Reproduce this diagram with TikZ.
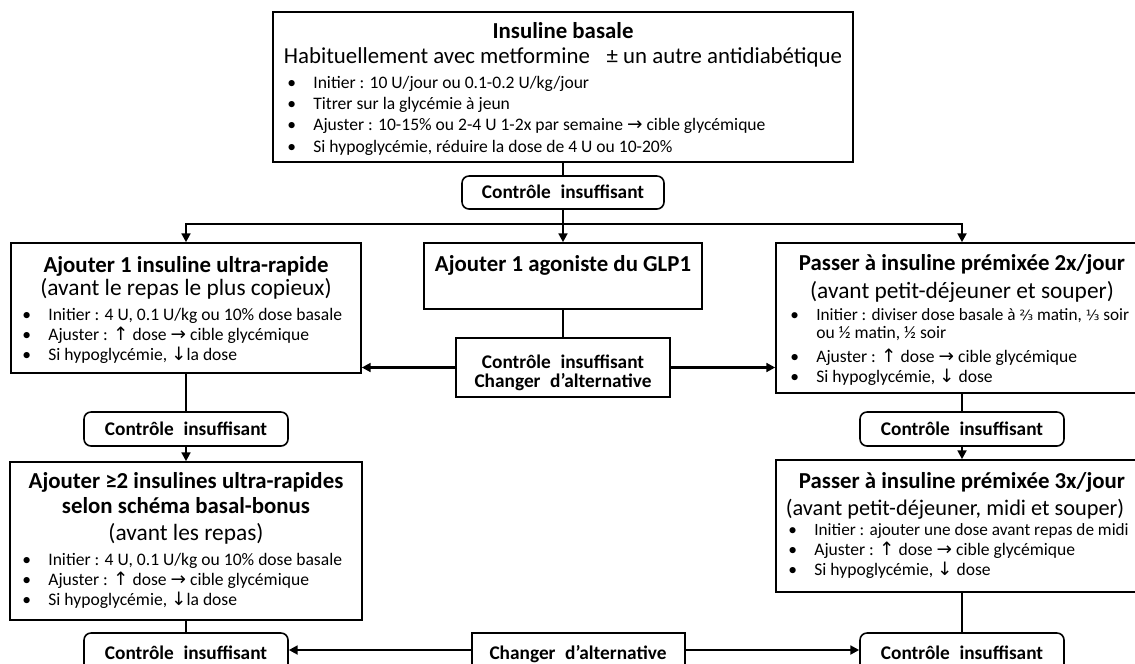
\documentclass[tikz,border=0pt]{standalone}
\usepackage{fontspec}
\setmainfont{Carlito}
\newfontfamily\symb{DejaVu Sans}
\usetikzlibrary{arrows.meta,fit}

\newcommand{\haut}{{\symb\fontsize{10.5}{12}\selectfont ↑}}
\newcommand{\bas}{{\symb\fontsize{10.5}{12}\selectfont ↓}}
\newcommand{\vers}{{\symb\fontsize{10.5}{12}\selectfont →}}

\tikzset{
  boite/.style={draw, line width=0.9pt, inner sep=0pt},
  ctl/.style={boite, rounded corners=4pt},
  lien/.style={line width=1.3pt},
  fleche/.style={lien, -{Triangle[length=5pt,width=5pt]}},
  titre/.style={anchor=base, inner sep=0pt, font=\fontsize{13}{15}\selectfont\bfseries},
  sous/.style={anchor=base, inner sep=0pt, font=\fontsize{13.3}{15}\selectfont},
  gras/.style={anchor=base, inner sep=0pt, font=\fontsize{11}{13}\selectfont\bfseries},
  puce/.style={anchor=base west, inner sep=0pt, font=\fontsize{10}{12}\selectfont},
}
\newcommand{\bul}{\makebox[0.52cm][l]{\textbullet}}

\begin{document}
\begin{tikzpicture}[x=0.02cm, y=-0.02cm]
  \useasboundingbox (0,0) rectangle (1135,663);
  \clip (0,0) rectangle (1135,663);

  % boites
  \node[boite, fit={(273,12) (853,162)}] (b0) {};
  \node[ctl, fit={(462,176) (664,209)}] (c0) {};
  \node[boite, fit={(11,243) (361,373)}] (b1) {};
  \node[boite, fit={(424,243) (702,309)}] (b2) {};
  \node[boite, fit={(776,243) (1148,393)}] (b3) {};
  \node[boite, fit={(456,338) (670,397)}] (c2) {};
  \node[ctl, fit={(84,412) (288,446)}] (c1) {};
  \node[ctl, fit={(860,412) (1064,446)}] (c3) {};
  \node[boite, fit={(10,462) (362,620)}] (b4) {};
  \node[boite, fit={(776,460) (1148,592)}] (b5) {};
  \node[ctl, fit={(84,633) (288,671)}] (c4) {};
  \node[ctl, fit={(860,633) (1064,671)}] (c5) {};
  \node[boite, fit={(472,633) (685,671)}] (alt) {};

  % insuline basale
  \node[titre] (t0) at (563,38) {Insuline basale};
  \node[sous, font=\fontsize{13}{15}\selectfont] (s0) at (563,63)
    {Habituellement avec metformine \enspace± un autre antidiabétique};
  \node[puce] (p01) at (287,88) {\bul Initier : 10 U/jour ou 0.1-0.2 U/kg/jour};
  \node[puce] (p02) at (287,109) {\bul Titrer sur la glycémie à jeun};
  \node[puce] (p03) at (287,130) {\bul Ajuster : 10-15\% ou 2-4 U 1-2x par semaine \vers{} cible glycémique};
  \node[puce] (p04) at (287,152) {\bul Si hypoglycémie, réduire la dose de 4 U ou 10-20\%};
  \node[gras] (k0) at (563,198) {Contrôle\enspace insuffisant};

  % ultra-rapide
  \node[titre] (t1) at (186,272) {Ajouter 1 insuline ultra-rapide};
  \node[sous] (s1) at (186,295) {(avant le repas le plus copieux)};
  \node[puce] (p11) at (22,320) {\bul Initier : 4 U, 0.1 U/kg ou 10\% dose basale};
  \node[puce] (p12) at (22,340) {\bul Ajuster : \haut{} dose \vers{} cible glycémique};
  \node[puce] (p13) at (22,360) {\bul Si hypoglycémie, \bas la dose};

  % GLP1
  \node[titre] (t2) at (563,271) {Ajouter 1 agoniste du GLP1};
  \node[gras] (k21) at (563,368) {Contrôle\enspace insuffisant};
  \node[gras] (k22) at (563,387) {Changer\enspace d’alternative};

  % premixee 2x
  \node[titre] (t3) at (962,270) {Passer à insuline prémixée 2x/jour};
  \node[sous] (s3) at (962,298) {(avant petit-déjeuner et souper)};
  \node[puce, font=\fontsize{9.8}{12}\selectfont] (p31) at (790,320) {\bul Initier : diviser dose basale à {\symb\fontsize{8}{10}\selectfont ⅔} matin, {\symb\fontsize{8}{10}\selectfont ⅓} soir};
  \node[puce] (p32) at (816,338) {ou ½ matin, ½ soir};
  \node[puce] (p33) at (790,362) {\bul Ajuster : \haut{} dose \vers{} cible glycémique};
  \node[puce] (p34) at (790,382) {\bul Si hypoglycémie, \bas{} dose};

  \node[gras] (k1) at (186,435) {Contrôle\enspace insuffisant};
  \node[gras] (k3) at (962,435) {Contrôle\enspace insuffisant};

  % basal-bonus
  \node[titre] (t4) at (186,488) {Ajouter ≥2 insulines ultra-rapides};
  \node[titre] (t4b) at (186,513) {selon schéma basal-bonus};
  \node[sous] (s4) at (186,540) {(avant les repas)};
  \node[puce] (p41) at (22,565) {\bul Initier : 4 U, 0.1 U/kg ou 10\% dose basale};
  \node[puce] (p42) at (22,585) {\bul Ajuster : \haut{} dose \vers{} cible glycémique};
  \node[puce] (p43) at (22,605) {\bul Si hypoglycémie, \bas la dose};

  % premixee 3x
  \node[titre] (t5) at (962,488) {Passer à insuline prémixée 3x/jour};
  \node[sous, font=\fontsize{12.7}{15}\selectfont] (s5) at (955,515) {(avant petit-déjeuner, midi et souper)};
  \node[puce, font=\fontsize{9.8}{12}\selectfont] (p51) at (788,535) {\bul Initier : ajouter une dose avant repas de midi};
  \node[puce] (p52) at (788,555) {\bul Ajuster : \haut{} dose \vers{} cible glycémique};
  \node[puce] (p53) at (788,575) {\bul Si hypoglycémie, \bas{} dose};

  \node[gras] (k4) at (186,659) {Contrôle\enspace insuffisant};
  \node[gras] (k5) at (962,659) {Contrôle\enspace insuffisant};
  \node[gras] (ka) at (578,659) {Changer\enspace d’alternative};

  % liens
  \coordinate (j0) at (563,224);
  \draw[lien] (b0) -- (c0);
  \draw[lien] (c0) -- (j0);
  \draw[fleche] (j0) -| (b1.north);
  \draw[fleche] (j0) -| (b3.north);
  \draw[fleche] (j0) -- (b2.north);
  \draw[lien] (b2) -- (c2);
  \draw[fleche] (c2.west) -- (c2.west -| b1.east);
  \draw[fleche] (c2.east) -- (c2.east -| b3.west);
  \draw[lien] (b1) -- (c1);
  \draw[fleche] (c1) -- (b4);
  \draw[lien] (b3) -- (c3);
  \draw[fleche] (c3) -- (b5);
  \draw[lien] (b4) -- (c4);
  \draw[lien] (b5) -- (c5);
  \draw[fleche] (alt.west |- 0,650) -- (c4.east |- 0,650);
  \draw[fleche] (alt.east |- 0,650) -- (c5.west |- 0,650);
\end{tikzpicture}
\end{document}
